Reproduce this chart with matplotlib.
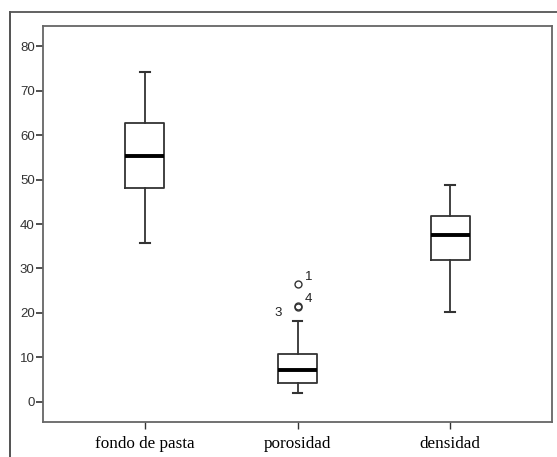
import matplotlib
matplotlib.use("Agg")
import matplotlib.pyplot as plt
from matplotlib.lines import Line2D

# values
categories = ["fondo de pasta", "porosidad", "densidad"]
whisk_lo = [35.7, 2.1, 20.2]
q1 = [48.0, 4.3, 31.8]
medians = [55.3, 7.1, 37.5]
q3 = [62.6, 10.7, 41.8]
whisk_hi = [74.1, 18.3, 48.8]
outliers = [[], [26.5, 21.3, 21.6], []]
outlier_ids = [[], ["1", "3", "4"], []]
yticks = [0, 10, 20, 30, 40, 50, 60, 70, 80]

W, H = 557, 457
fig = plt.figure(figsize=(W / 100, H / 100), dpi=100)
ax = fig.add_axes([43 / W, 1 - 422 / H, (552 - 43) / W, (422 - 26) / H])

stats = []
for i, name in enumerate(categories):
    stats.append(dict(label=name, whislo=whisk_lo[i], q1=q1[i], med=medians[i],
                      q3=q3[i], whishi=whisk_hi[i], fliers=outliers[i]))

pos = [1, 2, 3]
ax.bxp(stats, positions=pos, widths=0.255, showfliers=True,
       boxprops=dict(color="#333333", linewidth=1.3),
       medianprops=dict(color="black", linewidth=2.8),
       whiskerprops=dict(color="#333333", linewidth=1.3),
       capprops=dict(color="#333333", linewidth=1.5),
       capwidths=0.065,
       flierprops=dict(marker="o", markersize=5, markerfacecolor="none",
                       markeredgecolor="#333333", markeredgewidth=1.0))

# case labels next to the outliers
p = pos[1]
ax.text(p + 0.05, outliers[1][0] + 0.3, outlier_ids[1][0], fontsize=9.5,
        family="Liberation Sans", color="#222222", va="bottom", ha="left")
ax.text(p - 0.1, outliers[1][1] - 1.3, outlier_ids[1][1], fontsize=9.5,
        family="Liberation Sans", color="#222222", va="center", ha="right")
ax.text(p + 0.05, outliers[1][2] + 0.1, outlier_ids[1][2], fontsize=9.5,
        family="Liberation Sans", color="#222222", va="bottom", ha="left")

ax.set_xlim(0.333, 3.667)
ax.set_ylim(-4.5, 84.5)
ax.set_yticks(yticks)
ax.set_yticklabels([str(t) for t in yticks], fontsize=9.5, family="Liberation Sans",
                   color="#333333")
ax.set_xticks(pos)
ax.set_xticklabels(categories, fontsize=12.3, family="Liberation Serif")
ax.tick_params(axis="y", length=5, width=1.2, pad=1, color="#333333")
ax.tick_params(axis="x", length=5, width=1.0, pad=5, color="#333333")

for s in ax.spines.values():
    s.set_color("#666666")
    s.set_linewidth(1.3)

# outer frame of the chart window
fig.add_artist(Line2D([10 / W, 10 / W], [0, 1 - 12 / H], transform=fig.transFigure,
                      color="#444444", linewidth=1.3))
fig.add_artist(Line2D([10 / W, 1], [1 - 12 / H, 1 - 12 / H], transform=fig.transFigure,
                      color="#555555", linewidth=1.3))

fig.savefig("out.png", dpi=100)
